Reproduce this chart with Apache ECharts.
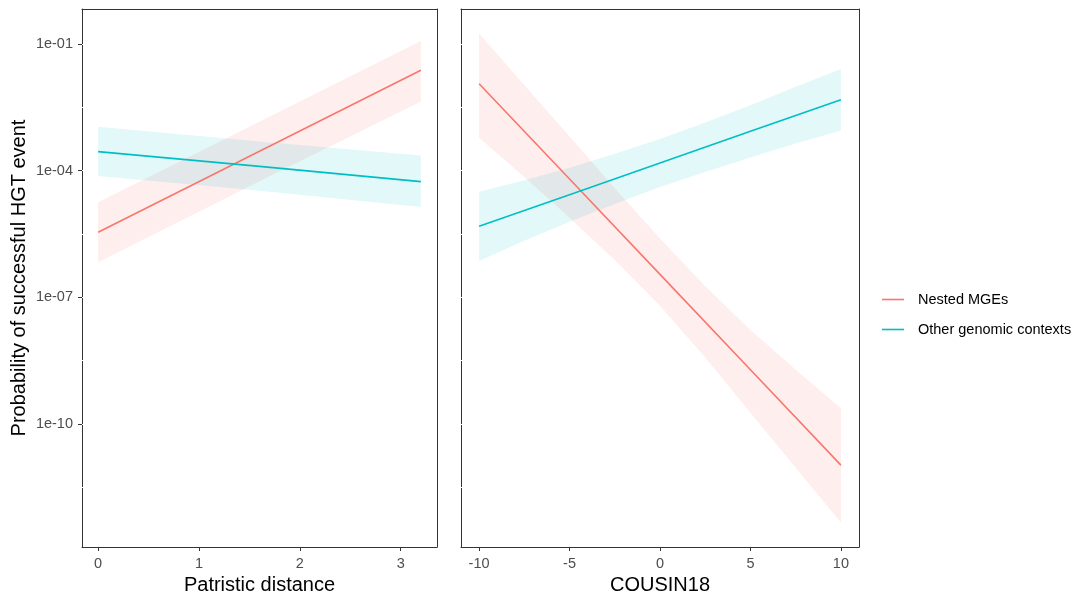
<!DOCTYPE html>
<html>
<head>
<meta charset="utf-8">
<script src="https://cdn.jsdelivr.net/npm/echarts@6/dist/echarts.min.js"></script>
<style>
  html, body { margin: 0; padding: 0; background: #ffffff; }
  #chart { width: 1073px; height: 595px; }
</style>
</head>
<body>
<div id="chart"></div>
<script>
// ---------- data (log10 of probability) ----------
const seriesNames = ['Nested MGEs', 'Other genomic contexts'];
const yTickValues = [-10, -7, -4, -1];          // 1e-10, 1e-07, 1e-04, 1e-01
const yGapValues = [-11.5, -10, -8.5, -7, -5.5, -4, -2.5, -1];

// Panel 1: Patristic distance
const patX = [0, 1.6, 3.2];
const patTicks = [0, 1, 2, 3];
const patGaps = [0, 0.5, 1, 1.5, 2, 2.5, 3];
const patNestedFit = [-5.46, -3.54, -1.62];
const patNestedLow = [-6.17, -4.25, -2.36];
const patNestedHigh = [-4.75, -2.84, -0.93];
const patOtherFit = [-3.55, -3.90, -4.26];
const patOtherLow = [-4.13, -4.48, -4.86];
const patOtherHigh = [-2.96, -3.31, -3.64];

// Panel 2: COUSIN18
const cosLineX = [-10, -5, 0, 5, 10];
const cosNestedFit = [-1.94, -4.20, -6.46, -8.72, -10.98];
const cosOtherFit = [-5.32, -4.57, -3.82, -3.07, -2.32];
const cosBandX = [-10, -7.5, -5, -2.5, 0, 2.5, 5, 7.5, 10];
const cosNestedLow = [-3.22, -4.15, -5.12, -6.12, -7.20, -8.43, -9.74, -11.04, -12.34];
const cosNestedHigh = [-0.75, -1.97, -3.19, -4.42, -5.61, -6.74, -7.78, -8.72, -9.63];
const cosOtherLow = [-6.14, -5.66, -5.21, -4.79, -4.39, -4.03, -3.69, -3.36, -3.05];
const cosOtherHigh = [-4.50, -4.23, -3.93, -3.60, -3.25, -2.86, -2.45, -2.01, -1.59];
const cosTicks = [-10, -5, 0, 5, 10];
const cosGaps = [-10, -7.5, -5, -2.5, 0, 2.5, 5, 7.5, 10];

// ---------- style ----------
const RED = '#F8766D', CYAN = '#00BFC4';
const RED_FILL = 'rgba(248,118,109,0.12)', CYAN_FILL = 'rgba(0,191,196,0.11)';
const FONT = 'Liberation Sans, Arial, Helvetica, sans-serif';
const Y_MIN = -12.92, Y_MAX = -0.17;

function fmtY(v) {
  const e = Math.round(-v);
  return '1e-' + (e < 10 ? '0' + e : '' + e);
}

function primaryX(gridIndex, min, max, ticks, name) {
  return {
    type: 'value', gridIndex: gridIndex, position: 'bottom', min: min, max: max, z: 2,
    name: name, nameLocation: 'middle', nameGap: 23,
    nameTextStyle: { fontFamily: FONT, fontSize: 20, color: '#000000' },
    axisLine: { show: true, onZero: false, lineStyle: { color: '#333333', width: 1 } },
    axisTick: { show: true, length: 4, customValues: ticks, lineStyle: { color: '#333333' } },
    axisLabel: { show: true, customValues: ticks, margin: 9, fontFamily: FONT, fontSize: 14.5, color: '#4D4D4D' },
    splitLine: { show: false }
  };
}
function secondaryX(gridIndex, min, max, gaps) {
  return {
    type: 'value', gridIndex: gridIndex, position: 'top', min: min, max: max, z: 3,
    axisLine: { show: true, onZero: false, lineStyle: { color: '#333333', width: 1 } },
    axisTick: { show: false, customValues: gaps },
    axisLabel: { show: false, customValues: gaps },
    splitLine: { show: true, lineStyle: { color: '#ffffff', width: 1 } }
  };
}
function primaryY(gridIndex, showLabels) {
  const o = {
    type: 'value', gridIndex: gridIndex, position: 'left', min: Y_MIN, max: Y_MAX, z: 2,
    axisLine: { show: true, onZero: false, lineStyle: { color: '#333333', width: 1 } },
    axisTick: { show: showLabels, length: 4, customValues: yTickValues, lineStyle: { color: '#333333' } },
    axisLabel: { show: showLabels, customValues: yTickValues, margin: 9, formatter: fmtY,
                 fontFamily: FONT, fontSize: 14.5, color: '#4D4D4D' },
    splitLine: { show: false }
  };
  if (showLabels) {
    o.name = 'Probability of successful HGT event';
    o.nameLocation = 'middle';
    o.nameGap = 53;
    o.nameTextStyle = { fontFamily: FONT, fontSize: 20, color: '#000000' };
  }
  return o;
}
function secondaryY(gridIndex) {
  return {
    type: 'value', gridIndex: gridIndex, position: 'right', min: Y_MIN, max: Y_MAX, z: 3,
    axisLine: { show: true, onZero: false, lineStyle: { color: '#333333', width: 1 } },
    axisTick: { show: false, customValues: yGapValues },
    axisLabel: { show: false, customValues: yGapValues },
    splitLine: { show: true, lineStyle: { color: '#ffffff', width: 1 } }
  };
}

function ribbon(name, xs, lo, hi, fill, xi, yi) {
  return {
    name: name + ' band', type: 'custom', xAxisIndex: xi, yAxisIndex: yi, z: 5, silent: true,
    data: xs.map(function (x, i) { return [x, lo[i], hi[i]]; }),
    encode: { x: 0, y: [1, 2] },
    renderItem: function (params, api) {
      if (params.dataIndex !== 0) return null;
      const pts = [];
      for (let i = 0; i < xs.length; i++) pts.push(api.coord([xs[i], hi[i]]));
      for (let i = xs.length - 1; i >= 0; i--) pts.push(api.coord([xs[i], lo[i]]));
      return { type: 'polygon', shape: { points: pts }, style: { fill: fill, stroke: null } };
    }
  };
}
function fitLine(name, xs, ys, color, xi, yi) {
  return {
    name: name, type: 'line', xAxisIndex: xi, yAxisIndex: yi, z: 6,
    data: xs.map(function (x, i) { return [x, ys[i]]; }),
    symbol: 'none', silent: true,
    lineStyle: { color: color, width: 1.6 }, itemStyle: { color: color }
  };
}

const option = {
  backgroundColor: '#ffffff',
  animation: false,
  textStyle: { fontFamily: FONT },
  grid: [
    { left: 82, top: 9, width: 355, height: 538, outerBoundsMode: 'none', containLabel: false },
    { left: 461, top: 9, width: 398, height: 538, outerBoundsMode: 'none', containLabel: false }
  ],
  xAxis: [
    primaryX(0, -0.16, 3.36, patTicks, 'Patristic distance'),
    secondaryX(0, -0.16, 3.36, patGaps),
    primaryX(1, -11, 11, cosTicks, 'COUSIN18'),
    secondaryX(1, -11, 11, cosGaps)
  ],
  yAxis: [
    primaryY(0, true),
    secondaryY(0),
    primaryY(1, false),
    secondaryY(1)
  ],
  legend: {
    orient: 'vertical', left: 882, top: 292, itemGap: 15, padding: 0,
    itemWidth: 22, itemHeight: 1.6, icon: 'rect',
    data: [
      { name: seriesNames[0], itemStyle: { color: RED } },
      { name: seriesNames[1], itemStyle: { color: CYAN } }
    ],
    textStyle: { fontFamily: FONT, fontSize: 14.5, color: '#000000', padding: [0, 0, 0, 9] }
  },
  series: [
    ribbon(seriesNames[0], patX, patNestedLow, patNestedHigh, RED_FILL, 0, 0),
    ribbon(seriesNames[1], patX, patOtherLow, patOtherHigh, CYAN_FILL, 0, 0),
    ribbon(seriesNames[0], cosBandX, cosNestedLow, cosNestedHigh, RED_FILL, 2, 2),
    ribbon(seriesNames[1], cosBandX, cosOtherLow, cosOtherHigh, CYAN_FILL, 2, 2),
    fitLine(seriesNames[0], patX, patNestedFit, RED, 0, 0),
    fitLine(seriesNames[1], patX, patOtherFit, CYAN, 0, 0),
    fitLine(seriesNames[0], cosLineX, cosNestedFit, RED, 2, 2),
    fitLine(seriesNames[1], cosLineX, cosOtherFit, CYAN, 2, 2)
  ]
};

const chart = echarts.init(document.getElementById('chart'), null, { renderer: 'canvas' });
chart.setOption(option);
</script>
</body>
</html>
